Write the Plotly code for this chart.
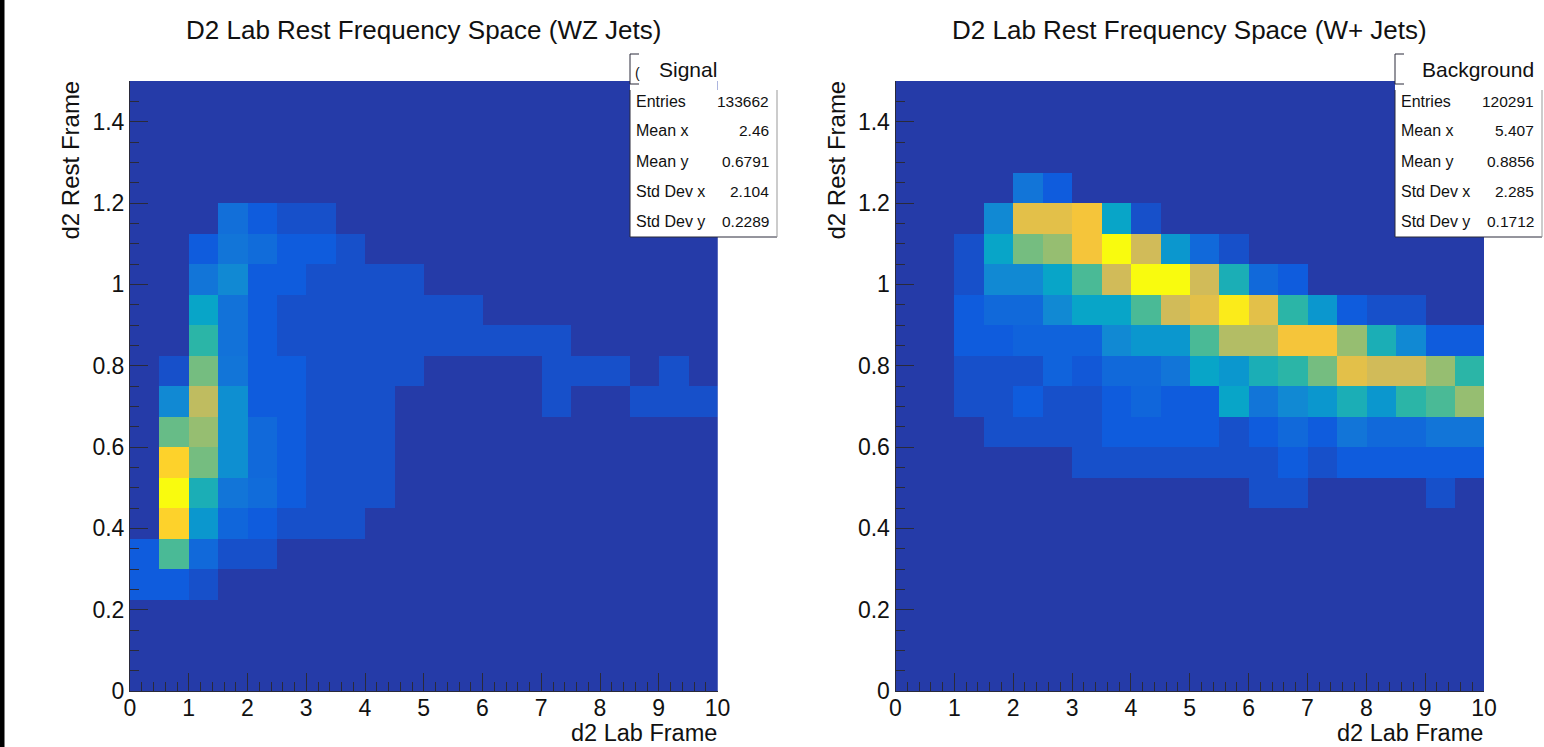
import plotly.graph_objects as go

A = .08; B = .125; C = .17; D = .21; E = .28; F = .33; G = .38; H = .44; I = .49; J = .54
K = .6; L = .65; M = .7; N = .75; O = .8; P = .85; Q = .9; R = .96; S = 1.0
o = 0

# rows listed from y=0 upward, 20 x bins per row
signal_z = [
 [o]*20, [o]*20, [o]*20,
 [B,B,A,o,o,o,o,o,o,o,o,o,o,o,o,o,o,o,o,o],
 [B,J,C,A,A,o,o,o,o,o,o,o,o,o,o,o,o,o,o,o],
 [o,Q,F,.16,B,A,A,A,o,o,o,o,o,o,o,o,o,o,o,o],
 [o,S,H,D,.18,B,A,A,A,o,o,o,o,o,o,o,o,o,o,o],
 [o,Q,.6,.3,C,B,A,A,A,o,o,o,o,o,o,o,o,o,o,o],
 [o,.58,L,.3,C,B,A,A,A,o,o,o,o,o,o,o,o,o,o,o],
 [o,E,.72,.3,B,B,A,A,A,o,o,o,o,o,A,o,o,A,A,A],
 [o,A,.6,D,B,B,A,A,A,A,o,o,o,o,A,A,A,o,A,o],
 [o,o,I,.2,B,A,A,A,A,A,A,A,A,A,A,o,o,o,o,o],
 [o,o,G,.2,B,A,A,A,A,A,A,A,o,o,o,o,o,o,o,o],
 [o,o,D,E,B,B,A,A,A,A,o,o,o,o,o,o,o,o,o,o],
 [o,o,B,D,.18,B,B,A,o,o,o,o,o,o,o,o,o,o,o,o],
 [o,o,o,.19,B,A,A,o,o,o,o,o,o,o,o,o,o,o,o,o],
 [o]*20, [o]*20, [o]*20, [o]*20,
]
background_z = [
 [o]*20, [o]*20, [o]*20, [o]*20, [o]*20, [o]*20,
 [o,o,o,o,o,o,o,o,o,o,o,o,A,A,o,o,o,o,A,o],
 [o,o,o,o,o,o,A,A,A,A,A,A,A,B,A,B,B,B,B,B],
 [o,o,o,A,A,A,A,B,B,B,B,A,B,C,B,D,C,C,D,D],
 [o,o,A,A,B,A,A,B,.16,B,B,G,D,E,F,H,F,I,J,L],
 [o,o,A,A,A,.15,.11,C,C,D,G,F,H,I,K,O,N,N,L,I],
 [o,o,B,B,.15,.15,.15,E,F,F,J,M,M,P,P,L,H,E,B,B],
 [o,o,B,C,C,E,G,G,J,N,O,R,O,I,F,B,A,A,o,o],
 [o,o,A,E,E,G,J,N,S,S,N,H,C,B,o,o,o,o,o,o],
 [o,o,A,G,K,L,P,S,N,F,C,A,o,o,o,o,o,o,o,o],
 [o,o,o,E,O,O,P,G,A,o,o,o,o,o,o,o,o,o,o,o],
 [o,o,o,o,D,B,o,o,o,o,o,o,o,o,o,o,o,o,o,o],
 [o]*20, [o]*20, [o]*20,
]

titles = ["D2 Lab Rest Frequency Space (WZ Jets)", "D2 Lab Rest Frequency Space (W+ Jets)"]
box_names = ["Signal", "Background"]
stat_labels = ["Entries", "Mean x", "Mean y", "Std Dev x", "Std Dev y"]
signal_stats = ["133662", "2.46", "0.6791", "2.104", "0.2289"]
background_stats = ["120291", "5.407", "0.8856", "2.285", "0.1712"]
x_label = "d2 Lab Frame"
y_label = "d2 Rest Frame"
x_ticks = [0, 1, 2, 3, 4, 5, 6, 7, 8, 9, 10]
y_ticks = [0, 0.2, 0.4, 0.6, 0.8, 1, 1.2, 1.4]
y_ticktext = ["0", "0.2", "0.4", "0.6", "0.8", "1", "1.2", "1.4"]

W, H_PX = 1544, 747
FONT = "Liberation Sans"
TXT = "#111111"
LINE = "#2a2a3a"
bird = [[0, "#253BA8"], [.125, "#0F5CDD"], [.25, "#1481D6"], [.375, "#06A4CA"], [.5, "#2EB7A4"],
        [.625, "#87BF77"], [.75, "#D1BB59"], [.875, "#FEC832"], [1, "#F9FB0E"]]

panels = [
    dict(z=signal_z, x0=130, x1=717.5, name_x=688, stats=signal_stats, box=630, ylab=70, clip=True),
    dict(z=background_z, x0=895.5, x1=1484, name_x=1478, stats=background_stats, box=1395, ylab=836, clip=False),
]
top, bottom = 81, 691


def px(x):
    return x / W


def py(y):
    return 1 - y / H_PX


fig = go.Figure()
ann = []
shapes = [dict(type="rect", xref="paper", yref="paper", x0=0, x1=px(4.5), y0=0, y1=1,
               fillcolor="black", line_width=0, layer="above")]

for i, p in enumerate(panels):
    n = "" if i == 0 else "2"
    fig.add_trace(go.Heatmap(z=p["z"], x0=0.25, dx=0.5, y0=0.0375, dy=0.075, zmin=0, zmax=1,
                             colorscale=bird, showscale=False, xaxis="x" + n, yaxis="y" + n))
    tickstyle = dict(ticks="inside", tickcolor=LINE, tickwidth=1, ticklen=18, showgrid=False,
                     zeroline=False, showline=True, linecolor=LINE, linewidth=1,
                     automargin=False, tickfont=dict(family=FONT, size=23, color=TXT))
    fig.update_layout({
        "xaxis" + n: dict(domain=[px(p["x0"]), px(p["x1"])], range=[0, 10], anchor="y" + n,
                          tickmode="array", tickvals=x_ticks, ticktext=[str(t) for t in x_ticks],
                          ticklabelstandoff=-4,
                          minor=dict(ticks="inside", dtick=0.2, ticklen=9, tickcolor=LINE, tickwidth=1),
                          **tickstyle),
        "yaxis" + n: dict(domain=[py(bottom), py(top)], range=[0, 1.5], anchor="x" + n,
                          tickmode="array", tickvals=y_ticks, ticktext=y_ticktext,
                          minor=dict(ticks="inside", dtick=0.05, ticklen=9, tickcolor=LINE, tickwidth=1),
                          **tickstyle),
    })
    mid = (p["x0"] + p["x1"]) / 2
    ann.append(dict(text=titles[i], x=px(mid), y=py(30), xanchor="center", yanchor="middle",
                    font=dict(size=26, family=FONT, color=TXT)))
    ann.append(dict(text=x_label, x=px(p["x1"] + 1), y=py(733), xanchor="right", yanchor="middle",
                    font=dict(size=23.5, family=FONT, color=TXT)))
    ann.append(dict(text=y_label, x=px(p["ylab"]), y=py(79), xanchor="center", yanchor="top", textangle=-90,
                    font=dict(size=24, family=FONT, color=TXT)))
    b = p["box"]
    shapes += [
        dict(type="rect", xref="paper", yref="paper", x0=px(b), x1=px(b + 147), y0=py(237), y1=py(90),
             fillcolor="white", line_width=0, layer="above"),
        dict(type="rect", xref="paper", yref="paper", x0=px(b), x1=px(p["x1"]), y0=py(90), y1=py(54),
             fillcolor="white", line_width=0, layer="above"),
        dict(type="path", xref="paper", yref="paper",
             path=f"M {px(b + 9)} {py(54)} L {px(b)} {py(54)} L {px(b)} {py(84)} L {px(b + 9)} {py(84)}",
             line=dict(color=LINE, width=1), layer="above"),
        dict(type="path", xref="paper", yref="paper",
             path=f"M {px(b)} {py(90)} L {px(b)} {py(237)} L {px(b + 147)} {py(237)}",
             line=dict(color=LINE, width=1), layer="above"),
        dict(type="line", xref="paper", yref="paper", x0=px(b + 147), x1=px(b + 147), y0=py(237), y1=py(90),
             line=dict(color="#999999", width=1), layer="above"),
    ]
    ann.append(dict(text=box_names[i], x=px(p["name_x"]), y=py(69), xanchor="center", yanchor="middle",
                    font=dict(size=21, family=FONT, color=TXT)))
    if p["clip"]:
        ann.append(dict(text="(", x=px(b + 7), y=py(73), xanchor="center", yanchor="middle",
                        font=dict(size=14, family=FONT, color=TXT)))
    for lab, val, yy in zip(stat_labels, p["stats"], [101, 131, 161, 192, 222]):
        ann.append(dict(text=lab, x=px(b + 4), y=py(yy), xanchor="left", yanchor="middle",
                        font=dict(size=16, family=FONT, color=TXT)))
        ann.append(dict(text=val, x=px(b + 141), y=py(yy), xanchor="right", yanchor="middle",
                        font=dict(size=15.5, family=FONT, color=TXT)))

for a in ann:
    a.update(xref="paper", yref="paper", showarrow=False)

fig.update_layout(template="none", width=W, height=H_PX,
                  margin=dict(l=0, r=0, t=0, b=0, pad=0, autoexpand=False), paper_bgcolor="white",
                  plot_bgcolor="#253BA8", annotations=ann, shapes=shapes, showlegend=False)
fig.write_html("out.html", config=dict(displayModeBar=False),
               post_script="document.body.style.margin='0';document.body.style.overflow='hidden';")
